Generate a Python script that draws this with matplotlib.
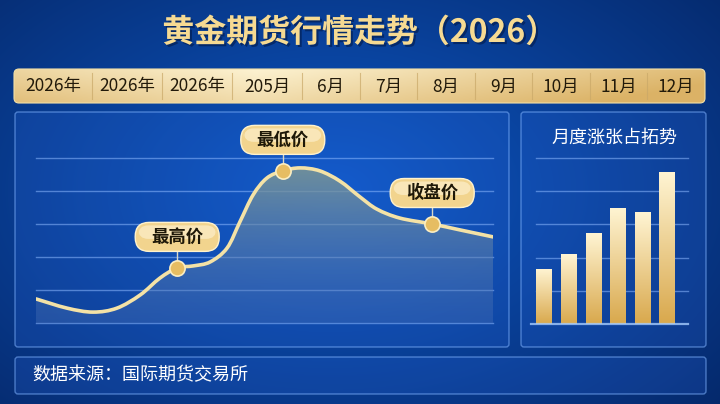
import numpy as np
import matplotlib
matplotlib.use("Agg")
import matplotlib.pyplot as plt
from matplotlib.patches import FancyBboxPatch, PathPatch
from matplotlib.path import Path
import matplotlib.patheffects as pe

plt.rcParams['font.family'] = ['Noto Sans CJK SC', 'DejaVu Sans']

# ---------------- data ----------------
title = "黄金期货行情走势（2026）"
header_labels = ["2026年", "2026年", "2026年", "205月", "6月", "7月", "8月", "9月", "10月", "11月", "12月"]
trend_t = [0, 6.8, 12.5, 17.7, 22.8, 27.1, 30.9, 34.4, 38.1, 41.8, 44.6, 47.5,
           50.5, 54.0, 57.8, 62.1, 66.5, 70.9, 74.6, 79.6, 86.7, 92.8, 100]
trend_v = [0.73, 0.45, 0.33, 0.45, 0.85, 1.36, 1.67, 1.73, 1.85, 2.27, 3.06, 3.88,
           4.39, 4.61, 4.70, 4.61, 4.30, 3.82, 3.45, 3.18, 3.00, 2.82, 2.61]
callout_labels = ["最高价", "最低价", "收盘价"]
callout_idx = [6, 13, 20]
bar_title = "月度涨张占拓势"
bar_values = [1.66, 2.10, 2.74, 3.50, 3.37, 4.58]
source_text = "数据来源：国际期货交易所"

W, H = 720, 404
fig = plt.figure(figsize=(W / 100, H / 100), dpi=100)

# ---------------- background ----------------
bg = fig.add_axes([0, 0, 1, 1], zorder=0)
bg.set_xlim(0, W)
bg.set_ylim(H, 0)
bg.axis('off')
yy, xx = np.mgrid[0:H, 0:W]
r = np.sqrt(((xx - 330) / 520.0) ** 2 + ((yy - 190) / 330.0) ** 2)
r = np.clip(r, 0, 1)
c_in = np.array([0.05, 0.34, 0.77])
c_out = np.array([0.02, 0.16, 0.42])
img = c_in[None, None, :] * (1 - r[..., None]) + c_out[None, None, :] * r[..., None]
bg.imshow(img, extent=[0, W, H, 0], aspect='auto', zorder=0)

def px_box(ax, x0, y0, x1, y1, rs, fc, ec, lw=1.0, z=1):
    p = FancyBboxPatch((x0, y0), x1 - x0, y1 - y0,
                       boxstyle=f"round,pad=0,rounding_size={rs}",
                       fc=fc, ec=ec, lw=lw, zorder=z)
    ax.add_patch(p)
    return p

# title
bg.text(360, 33, title, ha='center', va='center', fontsize=23, fontweight='bold',
        color='#f6da92', zorder=5,
        path_effects=[pe.withSimplePatchShadow(offset=(1.5, -1.5), shadow_rgbFace='#021a4a', alpha=0.6)])

# header bar with gold gradient
hb = px_box(bg, 14, 69, 705, 103, 5, 'none', '#f3dfa6', lw=0.8, z=3)
hx = np.linspace(0, 1, 300)
hy = np.linspace(0, 1, 30)
HX, HY = np.meshgrid(hx, hy)
gold_light = np.array([0.99, 0.95, 0.82])
gold_dark = np.array([0.86, 0.70, 0.40])
tcol = np.clip(np.abs(HX - 0.35) * 1.3 + HY * 0.35, 0, 1)
himg = gold_light * (1 - tcol[..., None]) + gold_dark * tcol[..., None]
im = bg.imshow(himg, extent=[14, 705, 103, 69], aspect='auto', zorder=2)
im.set_clip_path(hb)

col_edges = [14, 92, 162, 232, 302]
rest_w = (705 - 302) / 7.0
col_edges += [302 + rest_w * k for k in range(1, 8)]
for k, lab in enumerate(header_labels):
    cx = (col_edges[k] + col_edges[k + 1]) / 2
    bg.text(cx, 86.5, lab, ha='center', va='center', fontsize=12.5, color='#221a0a', zorder=4)
    if 0 < k:
        bg.plot([col_edges[k], col_edges[k]], [73, 99], color='#c9a868', lw=0.8, alpha=0.7, zorder=4)

# panels
panel_fc = (0.20, 0.45, 0.95, 0.18)
panel_ec = (0.50, 0.70, 1.00, 0.55)
px_box(bg, 15, 112, 509, 347, 3, panel_fc, panel_ec, lw=1.0, z=1)
px_box(bg, 521, 112, 706, 347, 3, panel_fc, panel_ec, lw=1.0, z=1)
px_box(bg, 15, 357, 706, 394, 3, panel_fc, panel_ec, lw=1.0, z=1)
bg.text(32, 375.5, source_text, ha='left', va='center', fontsize=13, color='white', zorder=4)
bg.text(614, 138, bar_title, ha='center', va='center', fontsize=13, color='white', zorder=4)

# ---------------- line chart ----------------
def fig_rect(x0, y_top, x1, y_bot):
    return [x0 / W, 1 - y_bot / H, (x1 - x0) / W, (y_bot - y_top) / H]

ax = fig.add_axes(fig_rect(36, 113, 493, 323), zorder=2)
ax.patch.set_alpha(0)
ax.set_xlim(0, 100)
ax.set_ylim(0, 210 / 33.0)
for s in ax.spines.values():
    s.set_visible(False)
ax.set_xticks([])
ax.set_yticks([])
grid_c = (0.55, 0.72, 1.0, 0.55)
for g in range(0, 6):
    ax.axhline(g, color=grid_c, lw=1.0, zorder=1, clip_on=False)

t = np.array(trend_t, dtype=float)
v = np.array(trend_v, dtype=float)

# smooth rendering of the measured points (Catmull-Rom -> cubic Bezier path)
def smooth_path_vertices(xs, ys):
    P = np.column_stack([xs, ys])
    verts = [P[0]]
    codes = [Path.MOVETO]
    n = len(P)
    for i in range(n - 1):
        p0 = P[i - 1] if i > 0 else P[i]
        p1 = P[i]
        p2 = P[i + 1]
        p3 = P[i + 2] if i + 2 < n else P[i + 1]
        c1 = p1 + (p2 - p0) / 6.0
        c2 = p2 - (p3 - p1) / 6.0
        verts += [c1, c2, p2]
        codes += [Path.CURVE4] * 3
    return verts, codes

lv, lc = smooth_path_vertices(t, v)
line_path = Path(lv, lc)
fill_path = Path(lv + [(t[-1], 0), (t[0], 0), lv[0]],
                 lc + [Path.LINETO, Path.LINETO, Path.CLOSEPOLY])
fill_patch = PathPatch(fill_path, fc='none', ec='none', transform=ax.transData)
ax.add_patch(fill_patch)
gy = np.linspace(1, 0, 200)[:, None]
top_c = np.array([0.50, 0.60, 0.58, 0.88])
bot_c = np.array([0.30, 0.45, 0.72, 0.35])
frac = np.clip(gy, 0, 1) ** 1.2
fimg = bot_c * (1 - frac[..., None]) + top_c * frac[..., None]
fimg = np.repeat(fimg, 2, axis=1)
fim = ax.imshow(fimg, extent=[0, 100, 0, 4.8], aspect='auto', zorder=2, origin='upper')
fim.set_clip_path(fill_patch)
ax.set_xlim(0, 100)
ax.set_ylim(0, 210 / 33.0)

ax.add_patch(PathPatch(line_path, fc='none', ec='#f4e2a6', lw=2.6, zorder=4,
                       joinstyle='round', capstyle='round'))

# callouts (overlay in display pixels)
ov = fig.add_axes([0, 0, 1, 1], zorder=5)
ov.set_xlim(0, W)
ov.set_ylim(0, H)
ov.axis('off')
fig.canvas.draw()
for lab, idx in zip(callout_labels, callout_idx):
    mx, my = ax.transData.transform((t[idx], v[idx]))
    bw, bh = 84, 29
    cy = my + 31
    ov.plot([mx, mx], [my, cy - bh / 2], color='#d8d8c8', lw=1.0, zorder=1)
    ov.add_patch(FancyBboxPatch((mx - bw / 2, cy - bh / 2), bw, bh,
                                boxstyle="round,pad=0,rounding_size=14",
                                fc='#f2d48e', ec='#fff2cc', lw=1.0, zorder=2))
    ov.add_patch(FancyBboxPatch((mx - bw / 2 + 3, cy - 2), bw - 6, bh / 2 - 1,
                                boxstyle="round,pad=0,rounding_size=10",
                                fc='#fdf1cf', ec='none', alpha=0.65, zorder=2))
    ov.text(mx, cy, lab, ha='center', va='center', fontsize=12.5, fontweight='bold',
            color='#1e1808', zorder=3)
    ov.scatter([mx], [my], s=120, color='#e6bd62', edgecolors='#fbeec2', linewidths=1.2, zorder=4)

# ---------------- bar chart ----------------
bx = fig.add_axes(fig_rect(531, 158, 688, 324), zorder=2)
bx.patch.set_alpha(0)
bx.set_xlim(-0.53, 5.85)
bx.set_ylim(0, 5)
for s in bx.spines.values():
    s.set_visible(False)
bx.set_xticks([])
bx.set_yticks([])
for g in range(1, 6):
    bx.axhline(g, xmin=0.03, color=grid_c, lw=1.0, zorder=1, clip_on=False)
bx.axhline(0, color=(0.65, 0.80, 1.0, 0.8), lw=1.6, zorder=5, clip_on=False)
bars = bx.bar(range(len(bar_values)), bar_values, width=0.62, color='none', zorder=3)
bgrad = np.linspace(0, 1, 200)[:, None]
b_top = np.array([1.00, 0.96, 0.83])
b_bot = np.array([0.85, 0.66, 0.30])
bimg = b_top * (1 - bgrad[..., None]) + b_bot * bgrad[..., None]
bimg = np.repeat(bimg, 2, axis=1)
for b in bars:
    x0 = b.get_x()
    h = b.get_height()
    bi = bx.imshow(bimg, extent=[x0, x0 + b.get_width(), 0, h], aspect='auto', zorder=3)
    bi.set_clip_path(b)
bx.set_xlim(-0.53, 5.85)
bx.set_ylim(0, 5)

fig.savefig("out.png", dpi=100)
